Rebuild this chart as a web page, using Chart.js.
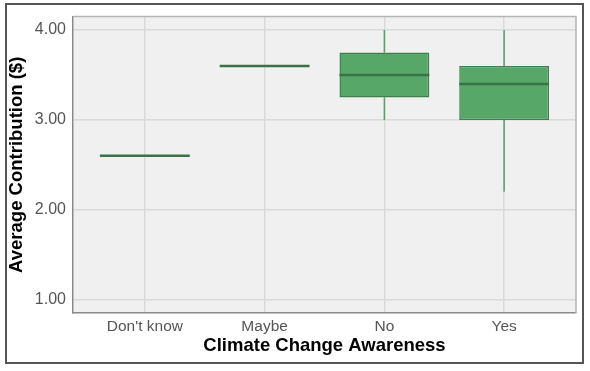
<!DOCTYPE html>
<html>
<head>
<meta charset="utf-8">
<script src="https://cdn.jsdelivr.net/npm/chart.js@4"></script>
<style>
  html, body { margin: 0; padding: 0; background: #fff; }
  #wrap { position: relative; width: 590px; height: 371px; }
  #frame {
    position: absolute; left: 5px; top: 3px; width: 579px; height: 361px;
    box-sizing: border-box; border: 2px solid #555; pointer-events: none;
  }
</style>
</head>
<body>
<div id="wrap">
  <canvas id="awareness-chart" width="590" height="371"></canvas>
  <div id="frame"></div>
</div>
<script>
// box summaries per awareness group
const categories = ["Don't know", "Maybe", "No", "Yes"];
const whiskerLow = [2.6, 3.6, 3.0, 2.2];
const q1 = [2.6, 3.6, 3.25, 3.0];
const median = [2.6, 3.6, 3.5, 3.4];
const q3 = [2.6, 3.6, 3.75, 3.6];
const whiskerHigh = [2.6, 3.6, 4.0, 4.0];
const yTicks = [1, 2, 3, 4];

const boxFill = "#57a868";
const boxEdge = "#3e7f4d";
const medianColor = "#3a7146";
const whiskerColor = "#5b9e6a";

const boxParts = {
  id: "boxParts",
  beforeDraw(chart) {
    const { ctx, chartArea: a } = chart;
    ctx.save();
    ctx.fillStyle = "#f0f0f0";
    ctx.fillRect(a.left, a.top, a.right - a.left, a.bottom - a.top);
    ctx.restore();
  },
  beforeDatasetsDraw(chart) {
    const { ctx } = chart;
    const yScale = chart.scales.y;
    const meta = chart.getDatasetMeta(0);
    ctx.save();
    ctx.strokeStyle = whiskerColor;
    ctx.lineWidth = 1.5;
    meta.data.forEach((bar, i) => {
      ctx.beginPath();
      ctx.moveTo(bar.x, yScale.getPixelForValue(whiskerLow[i]));
      ctx.lineTo(bar.x, yScale.getPixelForValue(q1[i]));
      ctx.moveTo(bar.x, yScale.getPixelForValue(q3[i]));
      ctx.lineTo(bar.x, yScale.getPixelForValue(whiskerHigh[i]));
      ctx.stroke();
    });
    ctx.restore();
  },
  afterDatasetsDraw(chart) {
    const { ctx, chartArea: a } = chart;
    const yScale = chart.scales.y;
    const meta = chart.getDatasetMeta(0);
    ctx.save();
    ctx.strokeStyle = medianColor;
    ctx.lineWidth = 2.5;
    meta.data.forEach((bar, i) => {
      const y = yScale.getPixelForValue(median[i]);
      ctx.beginPath();
      ctx.moveTo(bar.x - bar.width / 2, y);
      ctx.lineTo(bar.x + bar.width / 2, y);
      ctx.stroke();
    });
    // light top/right panel edges
    ctx.strokeStyle = "#b4b4b4";
    ctx.lineWidth = 1.5;
    ctx.beginPath();
    ctx.moveTo(a.left, a.top);
    ctx.lineTo(a.right, a.top);
    ctx.lineTo(a.right, a.bottom);
    ctx.stroke();
    ctx.restore();
  },
};

const canvas = document.getElementById("awareness-chart");

const chartConfig = {
  type: "bar",
  data: {
    datasets: [
      {
        data: categories.map((c, i) => ({ x: i + 1, y: [q1[i], q3[i]] })),
        backgroundColor: boxFill,
        borderColor: boxEdge,
        borderWidth: 1.5,
        borderSkipped: false,
        barPercentage: 0.75,
        categoryPercentage: 1,
      },
    ],
  },
  options: {
    responsive: false,
    animation: false,
    layout: { padding: { left: 0, top: 13, right: 14, bottom: 0 } },
    plugins: {
      legend: { display: false },
      tooltip: { enabled: false },
    },
    scales: {
      x: {
        type: "linear",
        min: 0.4,
        max: 4.6,
        offset: false,
        afterBuildTicks: (scale) => {
          scale.ticks = categories.map((c, i) => ({ value: i + 1 }));
        },
        afterFit: (scale) => { scale.height = 58; },
        grid: { color: "#d9d9d9", lineWidth: 1.5, drawTicks: false, offset: false },
        border: { color: "#8a8a8a", width: 1.5 },
        ticks: {
          padding: 4,
          color: "#555",
          font: { family: "Liberation Sans", size: 15.5 },
          callback: (v) => categories[v - 1],
        },
        title: {
          display: true,
          text: "Climate Change Awareness",
          color: "#000",
          font: { family: "Liberation Sans", size: 18.5, weight: "bold" },
          padding: { top: 0, bottom: 14 },
        },
      },
      y: {
        min: 0.85,
        max: 4.15,
        afterBuildTicks: (scale) => {
          scale.ticks = yTicks.map((v) => ({ value: v }));
        },
        afterFit: (scale) => { scale.width = 73; },
        grid: { color: "#d9d9d9", lineWidth: 1.5, drawTicks: false },
        border: { color: "#8a8a8a", width: 1.5 },
        ticks: {
          padding: 7,
          color: "#555",
          font: { family: "Liberation Sans", size: 16 },
          callback: (v) => Number(v).toFixed(2),
        },
        title: {
          display: true,
          text: "Average Contribution ($)",
          color: "#000",
          font: { family: "Liberation Sans", size: 18.5, weight: "bold" },
          padding: { top: 6, bottom: 0 },
        },
      },
    },
  },
  plugins: [boxParts],
};

const awarenessChart = new Chart(canvas, chartConfig);
</script>
</body>
</html>
